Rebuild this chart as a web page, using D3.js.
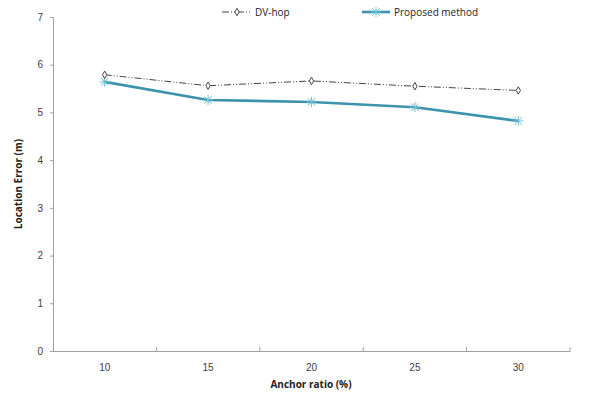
<!DOCTYPE html>
<html><head><meta charset="utf-8">
<script src="https://cdn.jsdelivr.net/npm/d3@7"></script>
<style>body{margin:0;background:#fff;} svg{display:block;font-family:"Open Sans","Liberation Sans",Arial,sans-serif;}</style>
</head><body>
<script>
const categories = ["10","15","20","25","30"];
const dvhop = [5.79, 5.56, 5.66, 5.55, 5.46];
const proposed = [5.64, 5.26, 5.22, 5.11, 4.82];
const yTicks = [0,1,2,3,4,5,6,7];
const seriesNames = ["DV-hop","Proposed method"];

const W=592,H=394;
const svg=d3.select("body").append("svg").attr("width",W).attr("height",H);
const x=d3.scaleBand().domain(categories).range([53,570]);
const y=d3.scaleLinear().domain([0,7]).range([351,17]);
const txt="#404040", axc="#a0a0a0";

// y axis
const ya=svg.append("g").attr("transform","translate(53,0)")
  .call(d3.axisLeft(y).tickValues(yTicks).tickFormat(d3.format("d")).tickSize(3).tickPadding(7));
ya.select(".domain").attr("stroke",axc);
ya.selectAll(".tick line").attr("stroke",axc);
ya.selectAll("text").attr("fill",txt).style("font-size","10px");

// x axis
const xa=svg.append("g").attr("transform","translate(0,351)")
  .call(d3.axisBottom(x).tickSize(0).tickPadding(13));
xa.select(".domain").attr("stroke",axc);
xa.selectAll("text").attr("fill",txt).style("font-size","10px");
// boundary ticks
const bounds=categories.map(c=>x(c)).concat([x.range()[1]]);
svg.append("g").selectAll("line").data(bounds.slice(1)).join("line")
  .attr("x1",d=>d).attr("x2",d=>d).attr("y1",347).attr("y2",351).attr("stroke",axc);

// titles
svg.append("text").attr("x",311).attr("y",388).attr("text-anchor","middle")
  .style("font-size","10px").style("font-weight","bold").attr("fill","#222").text("Anchor ratio (%)");
svg.append("text").attr("transform","translate(22,184) rotate(-90)").attr("text-anchor","middle")
  .style("font-size","10px").style("font-weight","bold").attr("fill","#222").text("Location Error (m)");

const cx=i=>x(categories[i])+x.bandwidth()/2;
const line=d3.line().x((d,i)=>cx(i)).y(d=>y(d));

// proposed
const pc="#3d93ad";
svg.append("path").datum(proposed).attr("d",line).attr("fill","none").attr("stroke",pc).attr("stroke-width",2.6);
function star(g,px,py){
  const r=5;
  g.append("line").attr("x1",px-r).attr("x2",px+r).attr("y1",py).attr("y2",py).attr("stroke","#6cc0d6").attr("stroke-width",1);
  g.append("line").attr("x1",px).attr("x2",px).attr("y1",py-r).attr("y2",py+r).attr("stroke","#6cc0d6").attr("stroke-width",1);
  g.append("line").attr("x1",px-r*0.75).attr("x2",px+r*0.75).attr("y1",py-r*0.75).attr("y2",py+r*0.75).attr("stroke","#6cc0d6").attr("stroke-width",1);
  g.append("line").attr("x1",px-r*0.75).attr("x2",px+r*0.75).attr("y1",py+r*0.75).attr("y2",py-r*0.75).attr("stroke","#6cc0d6").attr("stroke-width",1);
}
const sg=svg.append("g");
proposed.forEach((d,i)=>star(sg,cx(i),y(d)));

// dvhop
svg.append("path").datum(dvhop).attr("d",line).attr("fill","none").attr("stroke","#444")
  .attr("stroke-width",1).attr("stroke-dasharray","7,2,1,2,1,2");
const diamond=d3.symbol().type(d3.symbolDiamond).size(16);
svg.append("g").selectAll("path").data(dvhop).join("path")
  .attr("d",diamond).attr("transform",(d,i)=>`translate(${cx(i)},${y(d)})`)
  .attr("fill","#fff").attr("stroke","#444").attr("stroke-width",1);

// legend
const lg=svg.append("g");
lg.append("line").attr("x1",222).attr("x2",250).attr("y1",12).attr("y2",12).attr("stroke","#444").attr("stroke-dasharray","7,2,1,2,1,2");
lg.append("path").attr("d",diamond).attr("transform","translate(237,12)").attr("fill","#fff").attr("stroke","#444");
lg.append("text").attr("x",255).attr("y",16).style("font-size","10px").attr("fill","#222").text(seriesNames[0]);
lg.append("line").attr("x1",362).attr("x2",390).attr("y1",12).attr("y2",12).attr("stroke",pc).attr("stroke-width",2.6);
star(lg,376,12);
lg.append("text").attr("x",394).attr("y",16).style("font-size","10px").attr("fill","#222").text(seriesNames[1]);
</script>
</body></html>
